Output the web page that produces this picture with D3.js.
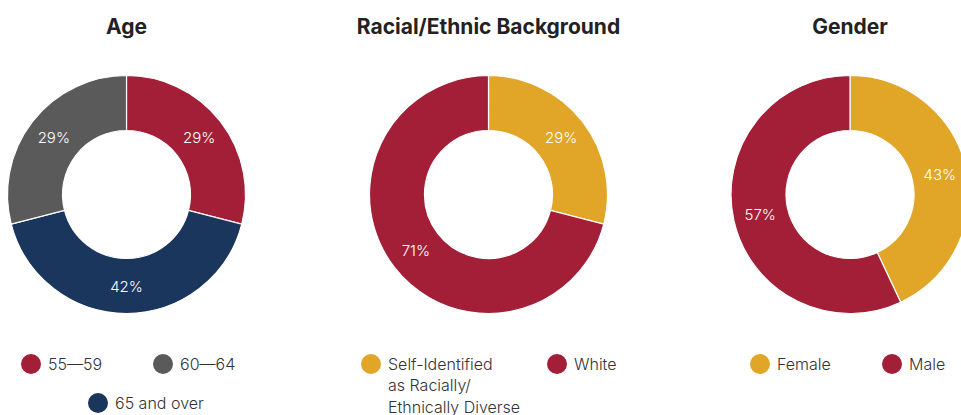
<!DOCTYPE html>
<html>
<head>
<meta charset="utf-8">
<script src="https://cdn.jsdelivr.net/npm/d3@7"></script>
<style>
  body { margin: 0; background: #fff; }
  svg { display: block; }
  .title { font-family: Inter, sans-serif; font-weight: 700; font-size: 21px; fill: #222; }
  .lbl { font-family: Inter, sans-serif; font-weight: 300; font-size: 15px; fill: #fff; }
  .leg { font-family: Inter, sans-serif; font-weight: 300; font-size: 16px; fill: #333; }
</style>
</head>
<body>
<script>
const ageLabels = ['55—59', '60—64', '65 and over']
const ageValues = [29, 29, 42]
const ageOrder = ['55—59', '65 and over', '60—64']

const raceLabels = ['Self-Identified as Racially/ Ethnically Diverse', 'White']
const raceValues = [29, 71]

const genderLabels = ['Female', 'Male']
const genderValues = [43, 57]

const colors = {
  '55—59': '#a31f37', '60—64': '#5a5a5a', '65 and over': '#1b365d',
  'Self-Identified as Racially/ Ethnically Diverse': '#e1a527', 'White': '#a31f37',
  'Female': '#e1a527', 'Male': '#a31f37'
}

const w = 961
const h = 415
const outerR = 119
const innerR = 64

const svg = d3.select('body')
  .append('svg')
  .attr('width', w)
  .attr('height', h)

const charts = [
  {
    title: 'Age', cx: 126.5,
    slices: ageOrder.map(k => ({ key: k, value: ageValues[ageLabels.indexOf(k)] })),
    legend: [
      { key: ageLabels[0], lines: [ageLabels[0]], x: 31, y: 364 },
      { key: ageLabels[1], lines: [ageLabels[1]], x: 163, y: 364 },
      { key: ageLabels[2], lines: [ageLabels[2]], x: 98, y: 403 }
    ]
  },
  {
    title: 'Racial/Ethnic Background', cx: 488.5,
    slices: raceLabels.map((k, i) => ({ key: k, value: raceValues[i] })),
    legend: [
      { key: raceLabels[0], lines: ['Self-Identified', 'as Racially/', 'Ethnically Diverse'], x: 371, y: 364 },
      { key: raceLabels[1], lines: [raceLabels[1]], x: 557, y: 364 }
    ]
  },
  {
    title: 'Gender', cx: 850,
    slices: genderLabels.map((k, i) => ({ key: k, value: genderValues[i] })),
    legend: [
      { key: genderLabels[0], lines: [genderLabels[0]], x: 760, y: 364 },
      { key: genderLabels[1], lines: [genderLabels[1]], x: 892, y: 364 }
    ]
  }
]

const cy = 194.5
const pie = d3.pie().sort(null).value(d => d.value)
const arc = d3.arc().innerRadius(innerR).outerRadius(outerR)
const labelArc = d3.arc().innerRadius(92).outerRadius(92)

charts.forEach(c => {
  svg.append('text')
    .attr('class', 'title')
    .attr('x', c.cx)
    .attr('y', 34)
    .attr('text-anchor', 'middle')
    .text(c.title)

  const g = svg.append('g').attr('transform', `translate(${c.cx},${cy})`)
  const arcs = pie(c.slices)

  g.selectAll('path')
    .data(arcs)
    .enter()
    .append('path')
    .attr('d', arc)
    .attr('fill', d => colors[d.data.key])
    .attr('stroke', '#fff')
    .attr('stroke-width', 1.2)

  g.selectAll('text')
    .data(arcs)
    .enter()
    .append('text')
    .attr('class', 'lbl')
    .attr('transform', d => `translate(${labelArc.centroid(d)})`)
    .attr('text-anchor', 'middle')
    .attr('dy', '0.35em')
    .text(d => d.data.value + '%')

  c.legend.forEach(l => {
    svg.append('circle')
      .attr('cx', l.x)
      .attr('cy', l.y)
      .attr('r', 10)
      .attr('fill', colors[l.key])
    const t = svg.append('text')
      .attr('class', 'leg')
      .attr('x', l.x + 17)
      .attr('y', l.y)
    l.lines.forEach((s, i) => {
      t.append('tspan')
        .attr('x', l.x + 17)
        .attr('dy', i === 0 ? '0.35em' : '1.35em')
        .text(s)
    })
  })
})
</script>
</body>
</html>
